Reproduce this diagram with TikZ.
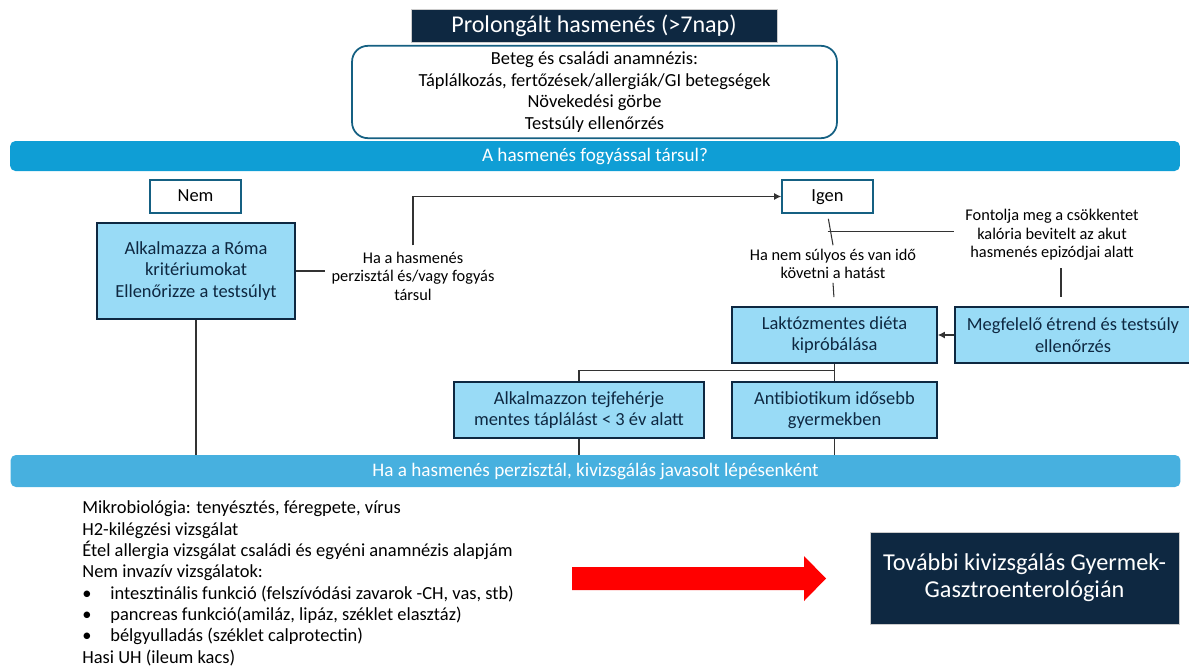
\documentclass[tikz,border=0pt]{standalone}
\usepackage{xcolor}
\usepackage{fontspec}
\setmainfont{Carlito}
\usepackage{tikz}
\usetikzlibrary{arrows.meta,positioning,calc}
\definecolor{darknavy}{HTML}{0E2841}
\definecolor{tealline}{HTML}{156082}
\definecolor{barblue}{HTML}{0F9ED5}
\definecolor{barlight}{HTML}{47B0DF}
\definecolor{boxblue}{HTML}{99DBF6}

\begin{document}
\begin{tikzpicture}[
    x=0.02cm, y=-0.02cm,
    every node/.style={font=\fontsize{10.5}{12.3}\selectfont},
    headbox/.style={rectangle, fill=darknavy, draw=gray!40, text=white,
                    minimum width=7.32cm, minimum height=0.66cm,
                    font=\fontsize{13.7}{16}\selectfont},
    histbox/.style={rectangle, rounded corners=9pt, draw=tealline, line width=1pt,
                    minimum width=9.7cm, minimum height=1.76cm, align=center},
    bar/.style={rectangle, rounded corners=3pt, fill=barblue, text=white,
                minimum width=23.4cm, minimum height=0.6cm,
                font=\fontsize{10.9}{13}\selectfont},
    answer/.style={rectangle, draw=tealline, line width=1pt, fill=white,
                   minimum width=1.82cm, minimum height=0.66cm,
                   text height=1.6ex, text depth=0.35ex},
    stepbox/.style={rectangle, fill=boxblue, draw=darknavy, line width=1pt,
                    text=darknavy, align=center, minimum height=1.12cm},
    note/.style={align=center, inner sep=3.5pt, font=\fontsize{9.3}{10.5}\selectfont},
    line/.style={draw=black!80, line width=0.6pt},
    arrow/.style={line, -{Latex[length=4pt,width=4pt]}}
]
\useasboundingbox (0,0) rectangle (1189,666);

\node[headbox] (title) at (594,26) {Prolongált hasmenés (>7nap)};
\node[histbox] (hist) at (594.5,92)
  {Beteg és családi anamnézis:\\ Táplálkozás, fertőzések/allergiák/GI betegségek\\
   Növekedési görbe\\ Testsúly ellenőrzés};
\node[bar] (q) at (595,156) {A hasmenés fogyással társul?};

\node[answer] (nem)  at (195.5,196.5) {Nem};
\node[answer] (igen) at (827.5,196.5) {Igen};

\node[stepbox, minimum width=3.96cm, minimum height=1.92cm] (roma) at (196,271)
  {Alkalmazza a Róma\\ kritériumokat\\ Ellenőrizze a testsúlyt};
\node[note] (persist) at (413,276) {Ha a hasmenés\\ perzisztál és/vagy fogyás\\ társul};
\node[note, inner sep=2pt] (time) at (833,264) {Ha nem súlyos és van idő\\ követni a hatást};
\node[note] (kcal) at (1052,235) {Fontolja meg a csökkentet\\ kalória bevitelt az akut\\ hasmenés epizódjai alatt};

\node[stepbox, minimum width=4.1cm] (lakt) at (834.5,335) {Laktózmentes diéta\\ kipróbálása};
\node[stepbox, minimum width=4.72cm] (diet) at (1073,335) {Megfelelő étrend és testsúly\\ ellenőrzés};
\node[stepbox, minimum width=5cm] (milk) at (579,410) {Alkalmazzon tejfehérje\\ mentes táplálást < 3 év alatt};
\node[stepbox, minimum width=4.1cm] (abx) at (834.5,410) {Antibiotikum idősebb\\ gyermekben};

\node[bar, fill=barlight, minimum height=0.64cm] (steps) at (595.5,471)
  {Ha a hasmenés perzisztál, kivizsgálás javasolt lépésenként};

\node[anchor=north west, inner sep=0pt, align=left,
      font=\fontsize{10.5}{12.15}\selectfont] (tests) at (82,500.5)
  {Mikrobiológia: tenyésztés, féregpete, vírus\\
   H2-kilégzési vizsgálat\\
   Étel allergia vizsgálat családi és egyéni anamnézis alapjám\\
   Nem invazív vizsgálatok:\\
   \makebox[0.56cm][l]{\textbullet}intesztinális funkció (felszívódási zavarok -CH, vas, stb)\\
   \makebox[0.56cm][l]{\textbullet}pancreas funkció(amiláz, lipáz, széklet elasztáz)\\
   \makebox[0.56cm][l]{\textbullet}bélgyulladás (széklet calprotectin)\\
   Hasi UH (ileum kacs)};

\node[rectangle, fill=darknavy, draw=gray!40, text=white, align=center,
      minimum width=6.18cm, minimum height=1.84cm,
      font=\fontsize{13.8}{15.5}\selectfont] (gastro) at (1024.5,578)
  {További kivizsgálás Gyermek-\\ Gasztroenterológián};

% red block arrow
\fill[red] (572,567) -- (804,567) -- (804,556) -- (826,578.5) -- (804,601)
  -- (804,590) -- (572,590) -- cycle;

% Connectors
\coordinate (fork) at ($(igen.south)+(0,18)$);
\coordinate (kcaldrop) at (1061,268);
\draw[line] (roma.east) -- (roma.east -| persist.west);
\draw[arrow] (persist.north) |- (igen.west);
\draw[line, shorten <=0.1cm] (igen.south) -- (time.north);
\draw[line] (fork) -- (fork -| diet.west);
\draw[line, shorten >=0.18cm] (time.south) -- (lakt.north);
\draw[line, shorten >=0.18cm] (kcaldrop) -- (kcaldrop |- diet.north);
\draw[arrow] (diet.west) -- (lakt.east);
\draw[line] (lakt.south) -- ++(0,7) -| (milk.north);
\draw[line] (lakt.south) -- (abx.north);
\draw[line] (roma.south) -- (roma.south |- steps.north);
\draw[line] (milk.south) -- (milk.south |- steps.north);
\draw[line] (abx.south) -- (abx.south |- steps.north);

\end{tikzpicture}
\end{document}
